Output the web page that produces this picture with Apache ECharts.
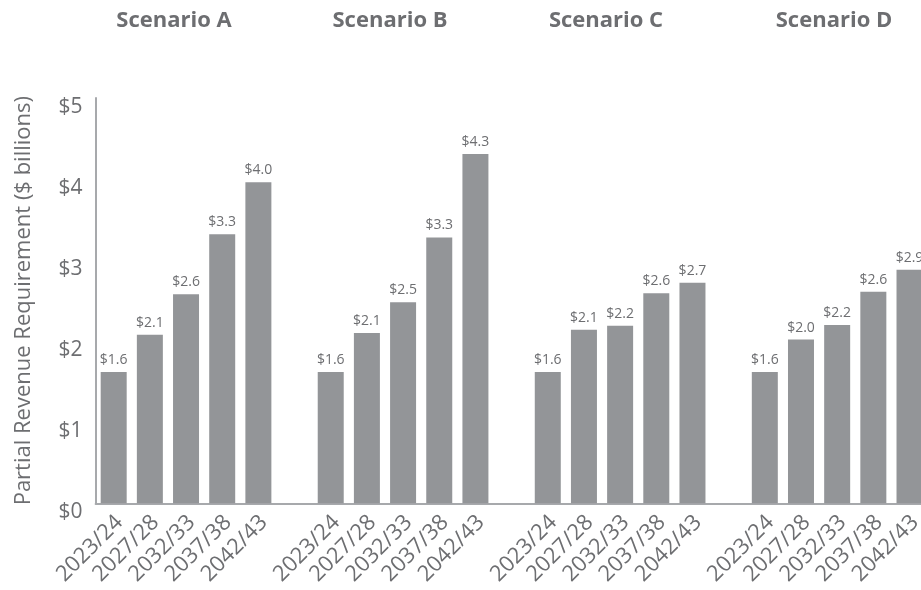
<!DOCTYPE html>
<html>
<head>
<meta charset="utf-8">
<script src="https://cdn.jsdelivr.net/npm/echarts@6/dist/echarts.min.js"></script>
<style>
html,body{margin:0;padding:0;background:#fff;}
#chart{width:921px;height:590px;}
</style>
</head>
<body>
<div id="chart"></div>
<script>
const years = ['2023/24', '2027/28', '2032/33', '2037/38', '2042/43'];
const scenarios = ['Scenario A', 'Scenario B', 'Scenario C', 'Scenario D'];
const scenarioA = [1.62, 2.08, 2.58, 3.32, 3.96];
const scenarioB = [1.62, 2.10, 2.48, 3.28, 4.31];
const scenarioC = [1.62, 2.14, 2.19, 2.59, 2.72];
const scenarioD = [1.62, 2.02, 2.20, 2.61, 2.88];
const yTicks = [0, 1, 2, 3, 4, 5];
const yTitle = 'Partial Revenue Requirement ($ billions)';

const groups = [scenarioA, scenarioB, scenarioC, scenarioD];
const categories = [];
const values = [];
groups.forEach((g, gi) => {
  if (gi > 0) { categories.push(''); values.push('-'); }
  years.forEach((y, i) => { categories.push(y); values.push(g[i]); });
});

const textColor = '#6d6e71';
const FONT = '"Open Sans", "Noto Sans", sans-serif';
const titleX = [174, 390, 606, 834];

const chart = echarts.init(document.getElementById('chart'), null, {renderer: 'canvas'});
chart.setOption({
  animation: false,
  backgroundColor: '#ffffff',
  graphic: scenarios.map((s, i) => ({
    type: 'text',
    x: titleX[i],
    y: 21,
    style: {
      text: s,
      fill: textColor,
      font: 'bold 22px ' + FONT,
      align: 'center',
      verticalAlign: 'middle',
      textAlign: 'center',
      textVerticalAlign: 'middle'
    }
  })),
  grid: {left: 95.6, top: 98, width: 832, height: 405.3, containLabel: false, outerBoundsMode: 'none'},
  xAxis: {
    type: 'category',
    data: categories,
    axisLine: {show: true, lineStyle: {color: '#a7a9ac', width: 2}},
    axisTick: {show: false},
    axisLabel: {
      interval: 0,
      rotate: 45,
      margin: 10,
      color: textColor,
      fontSize: 22,
      fontFamily: FONT,
      verticalAlign: 'top',
      lineHeight: 16
    }
  },
  yAxis: {
    type: 'value',
    min: 0,
    max: 5,
    interval: 1,
    name: yTitle,
    nameLocation: 'middle',
    nameGap: 61,
    nameTextStyle: {color: textColor, fontSize: 22, fontFamily: FONT},
    splitLine: {show: false},
    axisTick: {show: false},
    axisLine: {show: true, lineStyle: {color: '#a7a9ac', width: 2}},
    axisLabel: {
      color: textColor,
      fontSize: 21,
      fontFamily: FONT,
      margin: 13,
      verticalAlign: 'top',
      lineHeight: 18,
      formatter: v => yTicks.includes(v) ? '$' + v : ''
    }
  },
  series: [{
    type: 'bar',
    data: values,
    barWidth: 26,
    itemStyle: {color: '#939598'},
    label: {
      show: true,
      position: 'top',
      distance: 5,
      color: textColor,
      fontSize: 14,
      fontFamily: FONT,
      formatter: p => '$' + Number(p.value).toFixed(1)
    }
  }]
});
</script>
</body>
</html>
